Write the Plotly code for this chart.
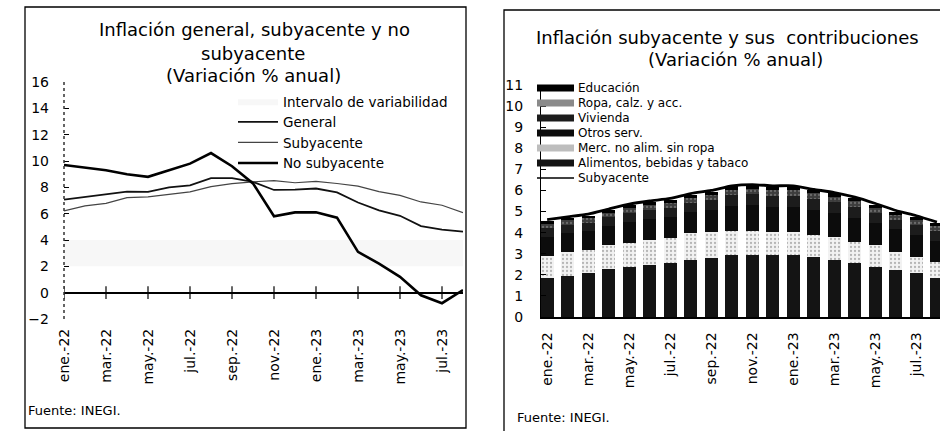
import plotly.graph_objects as go

W, H = 940, 431

months = ["ene.-22", "feb.-22", "mar.-22", "abr.-22", "may.-22", "jun.-22",
          "jul.-22", "ago.-22", "sep.-22", "oct.-22", "nov.-22", "dic.-22",
          "ene.-23", "feb.-23", "mar.-23", "abr.-23", "may.-23", "jun.-23",
          "jul.-23", "ago.-23"]
tick_labels = ["ene.-22", "mar.-22", "may.-22", "jul.-22", "sep.-22", "nov.-22",
               "ene.-23", "mar.-23", "may.-23", "jul.-23"]

# ---- Left chart: headline, core, non-core (% annual)
general = [7.07, 7.28, 7.45, 7.68, 7.65, 7.99, 8.15, 8.70, 8.70, 8.41, 7.80, 7.82,
           7.91, 7.62, 6.85, 6.25, 5.84, 5.06, 4.79, 4.64]
subyacente = [6.21, 6.59, 6.78, 7.22, 7.28, 7.49, 7.65, 8.05, 8.28, 8.42, 8.51, 8.35,
              8.45, 8.29, 8.09, 7.67, 7.39, 6.89, 6.64, 6.08]
no_subyacente = [9.7, 9.5, 9.3, 9.0, 8.8, 9.3, 9.8, 10.6, 9.6, 8.3, 5.8, 6.1,
                 6.1, 5.7, 3.1, 2.2, 1.2, -0.2, -0.8, 0.2]
intervalo_inf = [2, 2, 2, 2, 2, 2, 2, 2, 2, 2, 2, 2, 2, 2, 2, 2, 2, 2, 2, 2]
intervalo_sup = [4, 4, 4, 4, 4, 4, 4, 4, 4, 4, 4, 4, 4, 4, 4, 4, 4, 4, 4, 4]
left_yticks = [-2, 0, 2, 4, 6, 8, 10, 12, 14, 16]

# ---- Right chart: core inflation contributions
alimentos = [1.83, 1.94, 2.08, 2.27, 2.37, 2.46, 2.55, 2.70, 2.80, 2.94, 2.94, 2.94,
             2.94, 2.86, 2.70, 2.55, 2.39, 2.23, 2.08, 1.85]
merc_no_alim = [1.07, 1.16, 1.09, 1.13, 1.15, 1.19, 1.19, 1.28, 1.24, 1.16, 1.16, 1.10,
                1.10, 1.02, 1.10, 1.02, 1.02, 0.87, 0.78, 0.75]
otros_serv = [0.90, 0.88, 0.90, 0.92, 0.98, 1.00, 1.00, 1.00, 1.05, 1.16, 1.19, 1.18,
              1.18, 1.18, 1.14, 1.14, 1.04, 1.05, 1.04, 1.02]
vivienda = [0.40, 0.39, 0.40, 0.41, 0.44, 0.44, 0.44, 0.44, 0.46, 0.51, 0.52, 0.52,
            0.52, 0.52, 0.50, 0.50, 0.46, 0.46, 0.46, 0.45]
ropa = [0.22, 0.21, 0.21, 0.22, 0.23, 0.24, 0.24, 0.23, 0.25, 0.27, 0.28, 0.28,
        0.28, 0.28, 0.27, 0.27, 0.25, 0.25, 0.25, 0.24]
educacion = [0.13, 0.12, 0.12, 0.12, 0.13, 0.13, 0.13, 0.13, 0.14, 0.16, 0.16, 0.16,
             0.16, 0.16, 0.15, 0.15, 0.14, 0.14, 0.14, 0.14]
subyacente_r = [4.62, 4.75, 4.88, 5.12, 5.35, 5.50, 5.62, 5.85, 6.00, 6.22, 6.28, 6.22,
                6.22, 6.05, 5.90, 5.68, 5.38, 5.05, 4.80, 4.50]
right_yticks = [0, 1, 2, 3, 4, 5, 6, 7, 8, 9, 10, 11]

FONT = "DejaVu Sans"
px = lambda v: v / W
py = lambda v: 1 - v / H

fig = go.Figure()

# Left traces
fig.add_trace(go.Scatter(x=months, y=intervalo_inf, mode="lines", line=dict(width=0),
                         showlegend=False, hoverinfo="skip", xaxis="x", yaxis="y"))
fig.add_trace(go.Scatter(x=months, y=intervalo_sup, mode="lines", line=dict(width=0),
                         fill="tonexty", fillcolor="rgba(0,0,0,0.03)",
                         name="Intervalo de variabilidad", legend="legend",
                         xaxis="x", yaxis="y"))
fig.add_trace(go.Scatter(x=months, y=general, mode="lines", name="General",
                         line=dict(color="#111", width=1.8), legend="legend",
                         xaxis="x", yaxis="y"))
fig.add_trace(go.Scatter(x=months, y=subyacente, mode="lines", name="Subyacente",
                         line=dict(color="#444", width=1.2), legend="legend",
                         xaxis="x", yaxis="y"))
fig.add_trace(go.Scatter(x=months, y=no_subyacente, mode="lines", name="No subyacente",
                         line=dict(color="#000", width=2.6), legend="legend",
                         xaxis="x", yaxis="y"))
# tick marks on the zero line
fig.add_trace(go.Scatter(x=tick_labels, y=[0] * len(tick_labels), mode="markers",
                         marker=dict(symbol="line-ns", size=9,
                                     line=dict(color="#000", width=1.2)),
                         showlegend=False, hoverinfo="skip", xaxis="x", yaxis="y"))

# Right traces (stacked, bottom to top)
stack = [
    ("Alimentos, bebidas y tabaco", alimentos, "#141414", None),
    ("Merc. no alim. sin ropa", merc_no_alim, "#f2f2f2", "."),
    ("Otros serv.", otros_serv, "#0c0c0c", None),
    ("Vivienda", vivienda, "#1c1c1c", None),
    ("Ropa, calz. y acc.", ropa, "#3c3c3c", "."),
    ("Educación", educacion, "#000000", None),
]
for name, vals, col, pat in stack:
    marker = dict(color=col, line=dict(width=0))
    if pat:
        marker["pattern"] = dict(shape=pat, fgcolor="#777" if col == "#f2f2f2" else "#999",
                                 bgcolor=col, size=4, solidity=0.25)
    fig.add_trace(go.Bar(x=months, y=vals, name=name, marker=marker, showlegend=False,
                         xaxis="x2", yaxis="y2"))
fig.add_trace(go.Scatter(x=months, y=subyacente_r, mode="lines", name="Subyacente",
                         line=dict(color="#000", width=2.8, shape="spline", smoothing=0.6),
                         showlegend=False, xaxis="x2", yaxis="y2"))

shapes = []
annotations = []

# frames
shapes.append(dict(type="rect", xref="paper", yref="paper", x0=px(25), x1=px(466),
                   y0=py(428), y1=py(7), line=dict(color="#000", width=1.3)))
shapes.append(dict(type="rect", xref="paper", yref="paper", x0=px(504), x1=px(950),
                   y0=py(440), y1=py(10), line=dict(color="#000", width=1.3)))
# dotted left y axis
shapes.append(dict(type="line", xref="x domain", yref="y domain", x0=0, x1=0, y0=0, y1=1,
                   line=dict(color="#333", width=1.5, dash="dot")))

# titles
for txt, yy, cx in [("Inflación general, subyacente y no", 30, 255),
                    ("subyacente", 53, 253),
                    ("(Variación % anual)", 76, 253)]:
    annotations.append(dict(text=txt, x=px(cx), y=py(yy), xref="paper", yref="paper",
                            showarrow=False, xanchor="center", yanchor="middle",
                            font=dict(family=FONT, size=18, color="#000")))
for txt, yy, cx in [("Inflación subyacente y sus  contribuciones", 38, 727),
                    ("(Variación % anual)", 60, 735)]:
    annotations.append(dict(text=txt, x=px(cx), y=py(yy), xref="paper", yref="paper",
                            showarrow=False, xanchor="center", yanchor="middle",
                            font=dict(family=FONT, size=18, color="#000")))
# sources
annotations.append(dict(text="Fuente: INEGI.", x=px(26), y=py(410), xref="paper", yref="paper",
                        showarrow=False, xanchor="left", yanchor="middle",
                        font=dict(family=FONT, size=13, color="#000")))
annotations.append(dict(text="Fuente: INEGI.", x=px(515), y=py(417), xref="paper", yref="paper",
                        showarrow=False, xanchor="left", yanchor="middle",
                        font=dict(family=FONT, size=13, color="#000")))

# custom legend for right chart (top to bottom)
leg_items = [(s[0], s[2], s[3]) for s in reversed(stack)] + [("Subyacente", None, "line")]
leg_y = [88, 103, 118, 133, 148, 163, 178]
for (name, col, kind), yy in zip(leg_items, leg_y):
    if kind == "line":
        shapes.append(dict(type="line", xref="paper", yref="paper", x0=px(537), x1=px(574),
                           y0=py(yy), y1=py(yy), line=dict(color="#000", width=1.5)))
    else:
        fill = col if kind is None else ("#bdbdbd" if col == "#f2f2f2" else "#8a8a8a")
        shapes.append(dict(type="rect", xref="paper", yref="paper", x0=px(537), x1=px(574),
                           y0=py(yy + 3.5), y1=py(yy - 3.5), fillcolor=fill,
                           line=dict(width=0)))
    annotations.append(dict(text=name, x=px(576), y=py(yy), xref="paper", yref="paper",
                            showarrow=False, xanchor="left", yanchor="middle",
                            font=dict(family=FONT, size=12, color="#000")))

tickfont = dict(family=FONT, size=14, color="#000")

fig.update_layout(
    width=W, height=H,
    margin=dict(l=0, r=0, t=0, b=0, autoexpand=False),
    paper_bgcolor="white", plot_bgcolor="white",
    font=dict(family=FONT, color="#000"),
    barmode="stack", bargap=0.36,
    shapes=shapes, annotations=annotations,
    legend=dict(x=px(233), y=py(86), xanchor="left", yanchor="top",
                traceorder="normal",
                bgcolor="rgba(0,0,0,0)", itemwidth=40, tracegroupgap=0,
                font=dict(family=FONT, size=13.5, color="#000")),
    xaxis=dict(domain=[px(64), px(463)], range=[0, 19], type="category",
               categoryorder="array", categoryarray=months,
               tickmode="array", tickvals=tick_labels, ticktext=tick_labels,
               tickangle=-90, ticks="", showline=False, showgrid=False, zeroline=False,
               tickfont=tickfont, ticklabelstandoff=6, anchor="y", automargin=False),
    yaxis=dict(domain=[py(319), py(82)], range=[-2, 16], tickvals=left_yticks,
               ticks="inside", ticklen=5, tickcolor="#000", showline=False,
               showgrid=False, zeroline=True, zerolinecolor="#000", zerolinewidth=1.5,
               tickfont=tickfont, ticklabelstandoff=14, anchor="x", automargin=False),
    xaxis2=dict(domain=[px(541), 1.0], range=[-0.3, 19.15], type="category",
                categoryorder="array", categoryarray=months,
                tickmode="array", tickvals=tick_labels, ticktext=tick_labels,
                tickangle=-90, ticks="", showline=True, linecolor="#000", linewidth=1.5,
                showgrid=False, zeroline=False, tickfont=tickfont,
                ticklabelstandoff=8, anchor="y2", automargin=False),
    yaxis2=dict(domain=[py(317), py(85)], range=[0, 11], tickvals=right_yticks,
                ticks="inside", ticklen=5, tickcolor="#000", showline=True,
                linecolor="#000", linewidth=1.2, showgrid=False, zeroline=False,
                tickfont=dict(family=FONT, size=14, color="#000"),
                ticklabelstandoff=14, anchor="x2", automargin=False),
)

fig.write_html("out.html", config={"displayModeBar": False},
               post_script="document.body.style.margin='0';document.body.style.overflow='hidden';")
